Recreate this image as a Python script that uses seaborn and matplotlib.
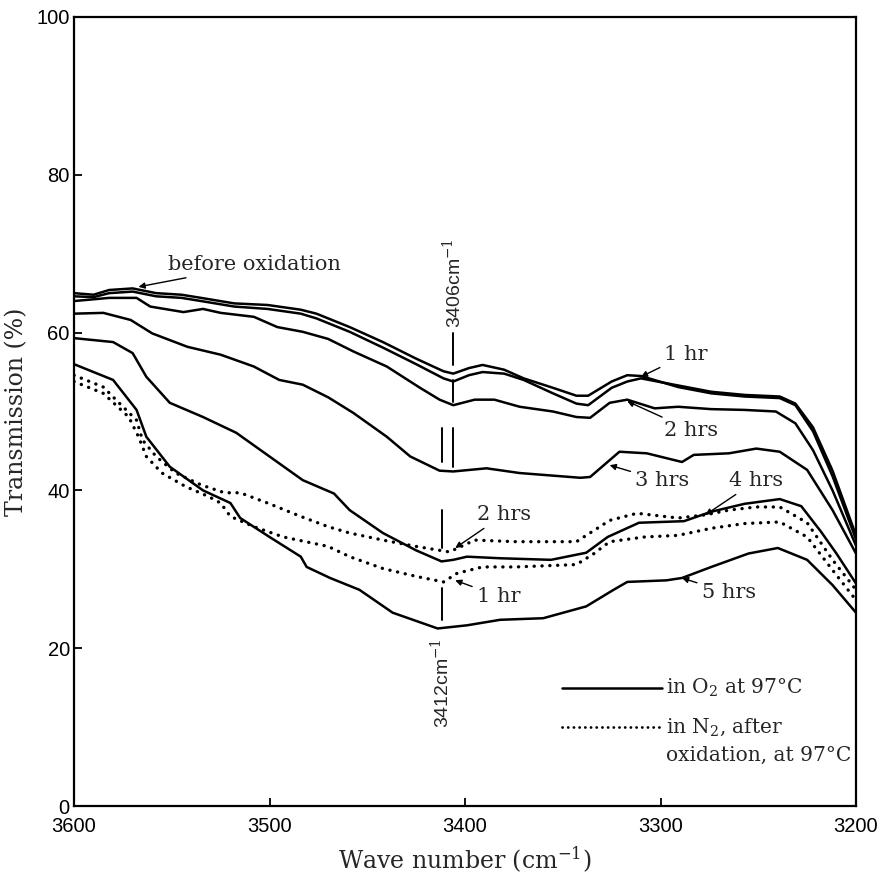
import matplotlib
matplotlib.use("Agg")
import matplotlib.pyplot as plt
import seaborn as sns
import pandas as pd

# ---------------- data ----------------
before_w = [3600, 3590, 3582, 3570, 3558, 3545, 3535, 3518, 3501, 3484, 3476, 3459, 3442, 3425, 3411, 3406,
            3398, 3391, 3380, 3370, 3355, 3343, 3337, 3325, 3317, 3310, 3291, 3274, 3257, 3239, 3231, 3222, 3212, 3200]
before_t = [65.0, 64.8, 65.4, 65.6, 65.0, 64.8, 64.4, 63.7, 63.5, 62.9, 62.4, 60.7, 58.8, 56.7, 55.1, 54.8,
            55.5, 55.9, 55.3, 54.2, 53.0, 52.0, 52.0, 53.8, 54.6, 54.5, 53.1, 52.3, 51.9, 51.7, 50.8, 47.5, 41.8, 33.8]

o2_1h_w = [3600, 3590, 3582, 3570, 3558, 3545, 3535, 3518, 3501, 3484, 3476, 3459, 3442, 3425, 3411, 3406,
           3398, 3391, 3380, 3370, 3355, 3343, 3337, 3325, 3317, 3310, 3291, 3274, 3257, 3239, 3231, 3222, 3212, 3200]
o2_1h_t = [64.6, 64.5, 65.0, 65.2, 64.6, 64.4, 64.0, 63.3, 63.0, 62.4, 61.8, 60.1, 58.1, 56.0, 54.2, 53.8,
           54.6, 55.0, 54.8, 54.0, 52.3, 51.0, 50.8, 53.0, 53.8, 54.2, 53.3, 52.5, 52.1, 51.9, 51.0, 48.0, 42.5, 34.3]

o2_2h_w = [3600, 3582, 3568, 3561, 3544, 3534, 3525, 3508, 3496, 3483, 3470, 3457, 3440, 3423, 3413, 3406,
           3395, 3385, 3372, 3355, 3343, 3336, 3326, 3317, 3303, 3291, 3274, 3257, 3241, 3231, 3222, 3212, 3200]
o2_2h_t = [64.0, 64.4, 64.4, 63.3, 62.6, 63.0, 62.5, 62.0, 60.7, 60.1, 59.2, 57.6, 55.7, 53.0, 51.5, 50.8,
           51.5, 51.5, 50.6, 50.0, 49.3, 49.2, 51.1, 51.5, 50.4, 50.6, 50.3, 50.2, 50.0, 48.5, 45.1, 40.0, 33.0]

o2_3h_w = [3600, 3585, 3571, 3560, 3542, 3525, 3508, 3495, 3483, 3470, 3457, 3440, 3428, 3413, 3406, 3389,
           3372, 3341, 3336, 3321, 3307, 3289, 3283, 3265, 3251, 3239, 3225, 3212, 3200]
o2_3h_t = [62.4, 62.5, 61.6, 59.9, 58.2, 57.2, 55.7, 54.0, 53.4, 51.8, 49.8, 46.8, 44.3, 42.5, 42.4, 42.8,
           42.2, 41.6, 41.7, 44.9, 44.7, 43.6, 44.5, 44.7, 45.3, 44.9, 42.6, 37.5, 32.0]

o2_4h_w = [3600, 3580, 3570, 3563, 3551, 3534, 3517, 3500, 3483, 3467, 3459, 3442, 3425, 3412, 3406, 3399,
           3382, 3356, 3338, 3327, 3311, 3288, 3274, 3257, 3239, 3228, 3218, 3210, 3200]
o2_4h_t = [59.3, 58.8, 57.4, 54.4, 51.1, 49.3, 47.3, 44.3, 41.3, 39.6, 37.5, 34.6, 32.4, 31.0, 31.2, 31.6,
           31.4, 31.2, 32.1, 34.1, 35.9, 36.1, 37.3, 38.3, 38.9, 38.0, 34.8, 32.0, 28.2]

o2_5h_w = [3600, 3580, 3568, 3563, 3551, 3534, 3520, 3515, 3500, 3484, 3481, 3469, 3454, 3437, 3414, 3399,
           3382, 3360, 3338, 3324, 3317, 3297, 3289, 3274, 3255, 3240, 3225, 3212, 3200]
o2_5h_t = [56.0, 54.0, 50.2, 46.8, 43.0, 40.0, 38.4, 36.5, 34.1, 31.6, 30.3, 28.9, 27.4, 24.5, 22.5, 22.9,
           23.6, 23.8, 25.3, 27.4, 28.4, 28.6, 28.9, 30.3, 32.0, 32.7, 31.2, 28.0, 24.5]

n2_2h_w = [3600, 3585, 3577, 3568, 3565, 3558, 3548, 3535, 3523, 3515, 3501, 3484, 3470, 3459, 3442, 3425,
           3408, 3395, 3374, 3343, 3326, 3312, 3291, 3277, 3265, 3251, 3239, 3225, 3212, 3200]
n2_2h_t = [54.6, 53.1, 51.1, 48.9, 46.4, 44.3, 42.2, 40.7, 39.7, 39.7, 38.4, 36.7, 35.4, 34.6, 33.7, 32.9,
           32.2, 33.7, 33.5, 33.5, 36.2, 37.1, 36.5, 36.9, 37.5, 37.9, 37.9, 35.9, 31.2, 27.4]

n2_1h_w = [3600, 3585, 3572, 3567, 3563, 3555, 3543, 3531, 3525, 3520, 3508, 3493, 3470, 3459, 3442, 3425,
           3411, 3404, 3391, 3374, 3343, 3334, 3326, 3308, 3291, 3274, 3257, 3239, 3225, 3212, 3200]
n2_1h_t = [53.8, 52.3, 49.3, 46.8, 44.3, 42.2, 40.5, 39.2, 38.4, 36.7, 35.4, 34.1, 32.9, 31.6, 30.1, 29.1,
           28.4, 29.5, 30.3, 30.3, 30.6, 32.0, 33.5, 34.1, 34.3, 35.2, 35.8, 36.0, 34.1, 29.9, 26.1]

# curve labels: (text, arrow tip wave, arrow tip T, text wave, text T)
label_texts = ["before oxidation", "1 hr", "2 hrs", "3 hrs", "4 hrs", "5 hrs", "2 hrs", "1 hr"]
label_tip_w = [3567, 3310, 3317, 3326, 3277, 3289, 3405, 3405]
label_tip_t = [65.8, 54.4, 51.3, 43.2, 36.9, 28.9, 32.7, 28.6]
label_txt_w = [3552, 3298, 3298, 3313, 3265, 3279, 3394, 3394]
label_txt_t = [68.6, 57.2, 47.6, 41.2, 41.2, 27.0, 36.9, 26.6]

# band markers
band_waves = [3406, 3412]
band_names = ["3406cm$^{-1}$", "3412cm$^{-1}$"]
band_segments = [[(60.0, 55.9), (54.0, 51.2), (47.9, 43.0)],
                 [(47.9, 43.6), (37.5, 32.7), (27.6, 23.6)]]
band_text_t = [60.6, 21.3]

x_ticks = [3600, 3500, 3400, 3300, 3200]
y_ticks = [0, 20, 40, 60, 80, 100]

# ---------------- build table ----------------
series = [
    ("before", "O2", before_w, before_t),
    ("1 hr", "O2", o2_1h_w, o2_1h_t),
    ("2 hrs", "O2", o2_2h_w, o2_2h_t),
    ("3 hrs", "O2", o2_3h_w, o2_3h_t),
    ("4 hrs", "O2", o2_4h_w, o2_4h_t),
    ("5 hrs", "O2", o2_5h_w, o2_5h_t),
    ("N2 2 hrs", "N2", n2_2h_w, n2_2h_t),
    ("N2 1 hr", "N2", n2_1h_w, n2_1h_t),
]
rows = []
for name, atm, ws, ts in series:
    for w, t in zip(ws, ts):
        rows.append({"series": name, "atm": atm, "wave": w, "T": t})
df = pd.DataFrame(rows)

# ---------------- plot ----------------
sns.set_style("ticks")
plt.rcParams["font.family"] = ["DejaVu Serif"]
plt.rcParams["mathtext.fontset"] = "dejavuserif"

fig = plt.figure(figsize=(8.8, 8.77), dpi=100)
ax = fig.add_axes([74 / 880, 71 / 877, 782 / 880, 789 / 877])

for name, atm, _, _ in series:
    sub = df[df["series"] == name]
    if atm == "O2":
        sns.lineplot(data=sub, x="wave", y="T", ax=ax, color="black", linewidth=1.8,
                     estimator=None, sort=False)
    else:
        sns.lineplot(data=sub, x="wave", y="T", ax=ax, color="black", linewidth=2.4,
                     linestyle=(0, (0.05, 2.3)), dash_capstyle="round",
                     estimator=None, sort=False)

ax.set_xlim(3600, 3200)
ax.set_ylim(0, 100)
ax.set_xticks(x_ticks)
ax.set_yticks(y_ticks)
tick_font = ["Liberation Sans", "DejaVu Sans"]
ax.set_xticklabels([str(v) for v in x_ticks], family=tick_font, fontsize=14.5)
ax.set_yticklabels([str(v) for v in y_ticks], family=tick_font, fontsize=14.5)
ax.tick_params(axis="both", direction="in", length=6, width=1.3, colors="black")
ax.tick_params(axis="x", pad=8)
ax.tick_params(axis="y", pad=3)
for sp in ax.spines.values():
    sp.set_visible(True)
    sp.set_linewidth(1.6)
    sp.set_color("black")

ax.set_xlabel("Wave number (cm$^{-1}$)", fontsize=17, labelpad=6)
ax.set_ylabel("Transmission (%)", fontsize=17, labelpad=6)

# curve labels with arrows
for txt, tw, tt, xw, xt in zip(label_texts, label_tip_w, label_tip_t, label_txt_w, label_txt_t):
    ax.annotate(txt, xy=(tw, tt), xytext=(xw, xt), fontsize=15, ha="left", va="center",
                arrowprops=dict(arrowstyle="-|>", color="black", lw=1.0, mutation_scale=9,
                                shrinkA=1, shrinkB=0))

# band markers
for bw, bname, segs, btt in zip(band_waves, band_names, band_segments, band_text_t):
    for top, bot in segs:
        ax.plot([bw, bw], [top, bot], color="black", linewidth=1.4)
    if bname.startswith("3406"):
        ax.text(bw, btt, bname, rotation=90, ha="center", va="bottom", fontsize=14,
                family=tick_font)
    else:
        ax.text(bw, btt, bname, rotation=90, ha="center", va="top", fontsize=14,
                family=tick_font)

# legend (drawn manually in axes fraction)
lx0, lx1 = (561.7 - 74) / 782, (661.7 - 74) / 782
ly1 = (806 - 688.3) / 789
ly2 = (806 - 727.3) / 789
ax.plot([lx0, lx1], [ly1, ly1], transform=ax.transAxes, color="black", linewidth=1.8)
ax.plot([lx0, lx1], [ly2, ly2], transform=ax.transAxes, color="black", linewidth=2.0,
        linestyle=(0, (0.05, 2.0)), dash_capstyle="round")
ax.text(lx1 + 0.005, ly1, "in O$_2$ at 97°C", transform=ax.transAxes, fontsize=14.5,
        ha="left", va="center")
ax.text(lx1 + 0.005, ly2, "in N$_2$, after", transform=ax.transAxes, fontsize=14.5,
        ha="left", va="center")
ax.text(lx1 + 0.005, (806 - 755) / 789, "oxidation, at 97°C", transform=ax.transAxes,
        fontsize=14.5, ha="left", va="center")

fig.savefig("out.png", dpi=100, facecolor="white")
